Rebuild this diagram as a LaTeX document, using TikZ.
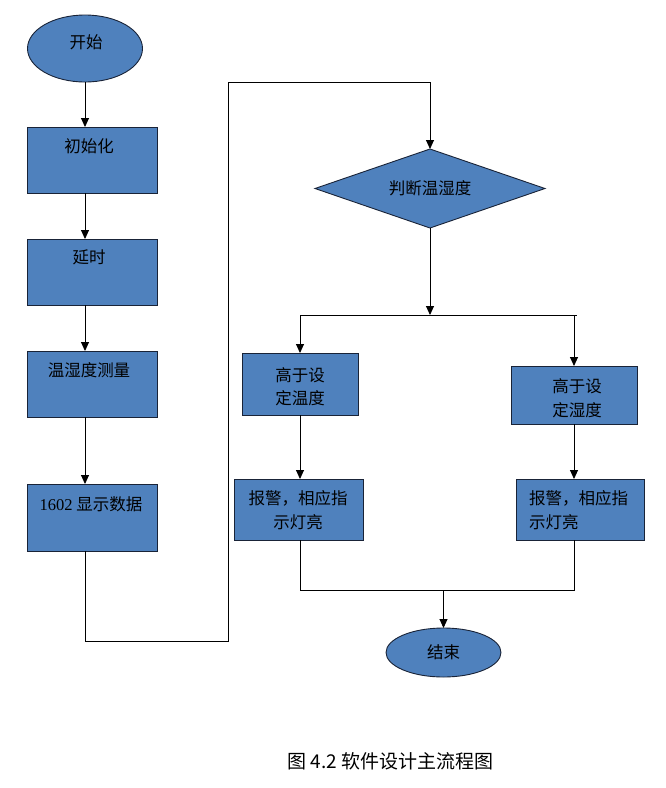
\documentclass[tikz,border=0pt]{standalone}
\usepackage{fontspec}
\setmainfont{Liberation Serif}
\newfontfamily\cjk{Noto Sans CJK SC}
\usetikzlibrary{shapes.geometric,arrows.meta}
\definecolor{boxblue}{RGB}{79,129,189}
\definecolor{boxedge}{RGB}{25,35,55}
\begin{document}
\begin{tikzpicture}[x=1pt,y=-1pt,
  shapebox/.style={draw=boxedge,fill=boxblue,line width=0.9pt,inner sep=0pt,outer sep=0pt},
  rectbox/.style={shapebox,rectangle},
  ovalbox/.style={shapebox,ellipse},
  txt/.style={font=\fontsize{16.5}{23.5}\selectfont\cjk,inner sep=0pt},
  conn/.style={line width=0.9pt,black},
  arr/.style={conn,-{Triangle[length=9pt,width=8pt]}}]
\useasboundingbox (0,0) rectangle (666,788);
% left column
\node[ovalbox,minimum width=115,minimum height=67] (start) at (85,48.5) {};
\node[txt] (tstart) at (86,42) {开始};
\node[rectbox,minimum width=130,minimum height=66] (b1) at (92,160) {};
\node[txt] (tb1) at (89,146) {初始化};
\node[rectbox,minimum width=130,minimum height=66] (b2) at (92,272) {};
\node[txt] (tb2) at (89,257) {延时};
\node[rectbox,minimum width=130,minimum height=66] (b3) at (92,384) {};
\node[txt] (tb3) at (89,370) {温湿度测量};
\node[rectbox,minimum width=130,minimum height=67] (b4) at (92,517.5) {};
\node[txt] (tb4) at (91,504) {{\rmfamily 1602} 显示数据};
% right part
\node[shapebox,diamond,aspect=2.9,minimum width=230,minimum height=79,txt] (dia) at (430,188.5) {判断温湿度};
\node[rectbox,minimum width=116,minimum height=62] (t1) at (300,384) {};
\node[txt,align=center] (tt1) at (300,386.5) {高于设\\定温度};
\node[rectbox,minimum width=126,minimum height=58] (t2) at (574,395) {};
\node[txt,align=center] (tt2) at (577,398) {高于设\\定湿度};
\node[rectbox,minimum width=129,minimum height=61] (a1) at (298.5,509.5) {};
\node[txt,align=center] (ta1) at (298,510) {报警，相应指\\示灯亮};
\node[rectbox,minimum width=128,minimum height=61] (a2) at (580,509.5) {};
\node[txt,align=left,anchor=west] (ta2) at (529,510) {报警，相应指\\示灯亮};
\node[ovalbox,minimum width=115,minimum height=49,txt] (end) at (443.5,652.5) {结束};
\node[font=\fontsize{19}{21}\selectfont\cjk,inner sep=0pt] (cap) at (390.5,761) {图 4.2 软件设计主流程图};
% connectors
\draw[arr] (start.south) -- (start.south |- b1.north);
\draw[arr] (b1.south -| start) -- (b2.north -| start);
\draw[arr] (b2.south -| start) -- (b3.north -| start);
\draw[arr] (b3.south -| start) -- (b4.north -| start);
\coordinate (loopR) at (228,641);
\coordinate (loopL) at (start |- loopR);
\coordinate (topR) at (228,82);
\draw[arr] (b4.south -| start) -- (loopL) -- (loopR) -- (topR) -| (dia.north);
\coordinate (hL) at (300,315);
\coordinate (hR) at (577,315);
\draw[arr] (dia.south) -- (dia.south |- hL);
\draw[conn] (hL) -- (hR);
\draw[arr] (t1.north |- hL) -- (t1.north);
\draw[arr] (t2.north |- hR) -- (t2.north);
\draw[arr] (t1.south) -- (t1.south |- a1.north);
\draw[arr] (t2.south) -- (t2.south |- a2.north);
\coordinate (jL) at (300,590);
\coordinate (jR) at (574,590);
\draw[conn] (a1.south -| t1) -- (jL) -- (jR) -- (a2.south -| t2);
\draw[arr] (end.north |- jL) -- (end.north);
\end{tikzpicture}
\end{document}
